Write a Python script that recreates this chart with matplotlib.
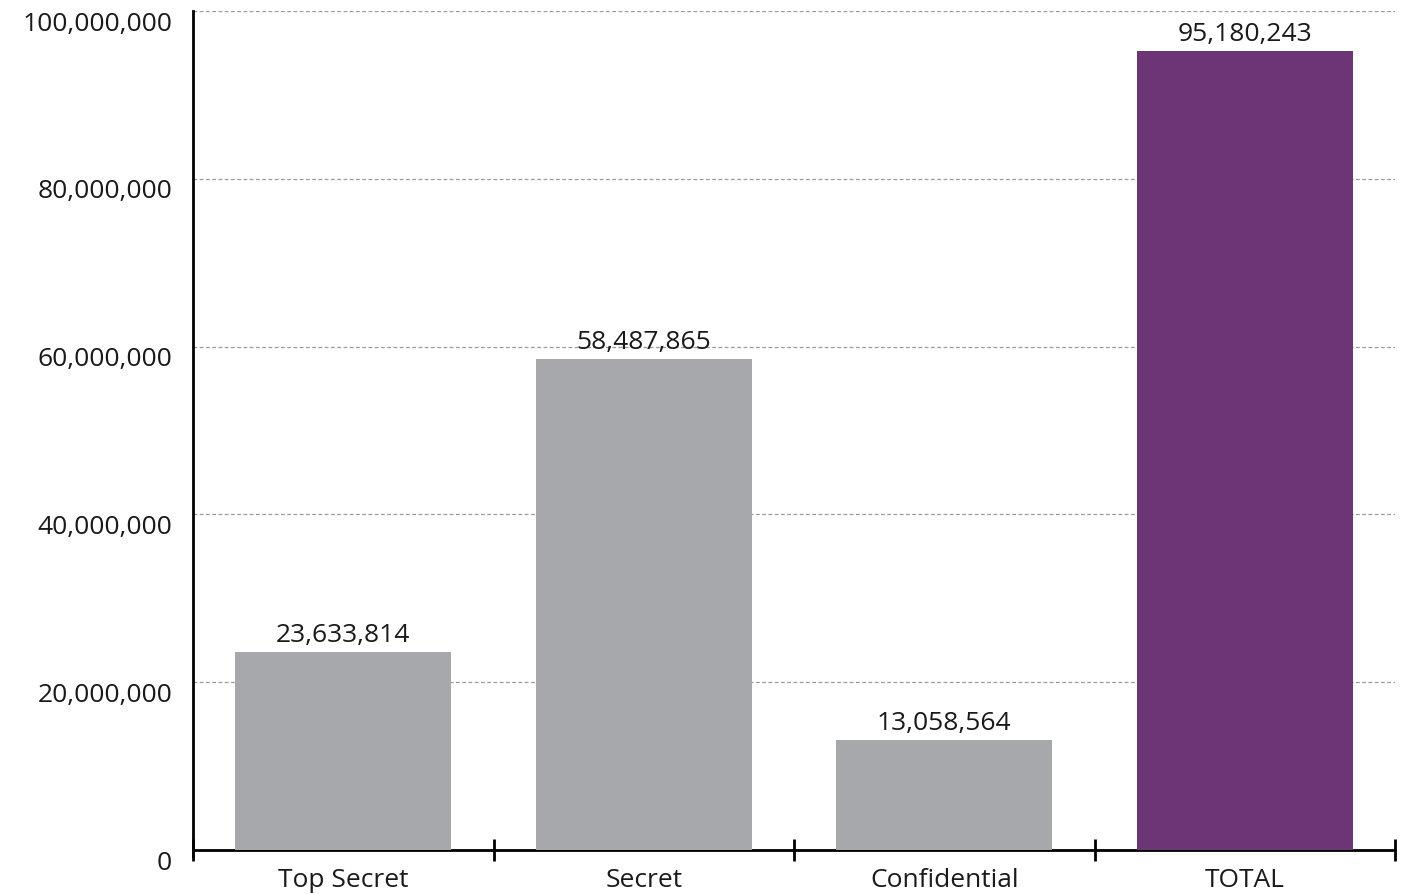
import matplotlib
matplotlib.use("Agg")
import matplotlib.pyplot as plt
import matplotlib.transforms as mtransforms
from matplotlib.ticker import FuncFormatter, FixedLocator

categories = ["Top Secret", "Secret", "Confidential", "TOTAL"]
values = [23633814, 58487865, 13058564, 95180243]
bar_colors = ["#a7a8ab", "#a7a8ab", "#a7a8ab", "#6c3576"]
y_ticks = [0, 20000000, 40000000, 60000000, 80000000, 100000000]

plt.rcParams["font.family"] = ["Open Sans", "DejaVu Sans"]
FS = 19
TXT = "#1a1a1a"

fig = plt.figure(figsize=(14.04, 8.94), dpi=100)
ax = fig.add_axes([193 / 1404, 44 / 894, (1395 - 193) / 1404, (850 - 11) / 894])

x = list(range(len(categories)))
ax.bar(x, values, width=0.72, color=bar_colors, zorder=3)

# value labels above each bar
for xi, v in zip(x, values):
    ax.annotate(f"{v:,}", (xi, v), xytext=(0, 3), textcoords="offset points",
                ha="center", va="bottom", fontsize=FS, color=TXT, zorder=4)

ax.set_xlim(-0.5, len(categories) - 0.5)
ax.set_ylim(0, 100000000)

# y labels sit slightly below their gridlines
ax.set_yticks(y_ticks)
ax.yaxis.set_major_formatter(FuncFormatter(lambda v, p: f"{int(v):,}"))
ax.tick_params(axis="y", length=0, labelsize=FS, labelcolor=TXT, pad=15)
offset = mtransforms.ScaledTranslation(0, -10 / 100, fig.dpi_scale_trans)
for lbl in ax.get_yticklabels():
    lbl.set_transform(lbl.get_transform() + offset)

# category labels at centres, tick marks on category boundaries
ax.set_xticks(x)
ax.set_xticklabels(categories)
ax.xaxis.set_minor_locator(FixedLocator([i - 0.5 for i in range(len(categories) + 1)]))
ax.tick_params(axis="x", which="major", length=0, labelsize=FS, labelcolor=TXT, pad=13)
ax.tick_params(axis="x", which="minor", length=16, width=2, direction="inout", color="black")

for yt in y_ticks[1:]:
    ax.axhline(yt, color="#9a9a9a", linewidth=0.9, linestyle=(0, (3, 2)), zorder=1)

for side in ["top", "right"]:
    ax.spines[side].set_visible(False)
ax.spines["left"].set_linewidth(2)
ax.spines["bottom"].set_linewidth(2)
ax.spines["left"].set_bounds(-700000, 100000000)

fig.savefig("out.png", dpi=100)
